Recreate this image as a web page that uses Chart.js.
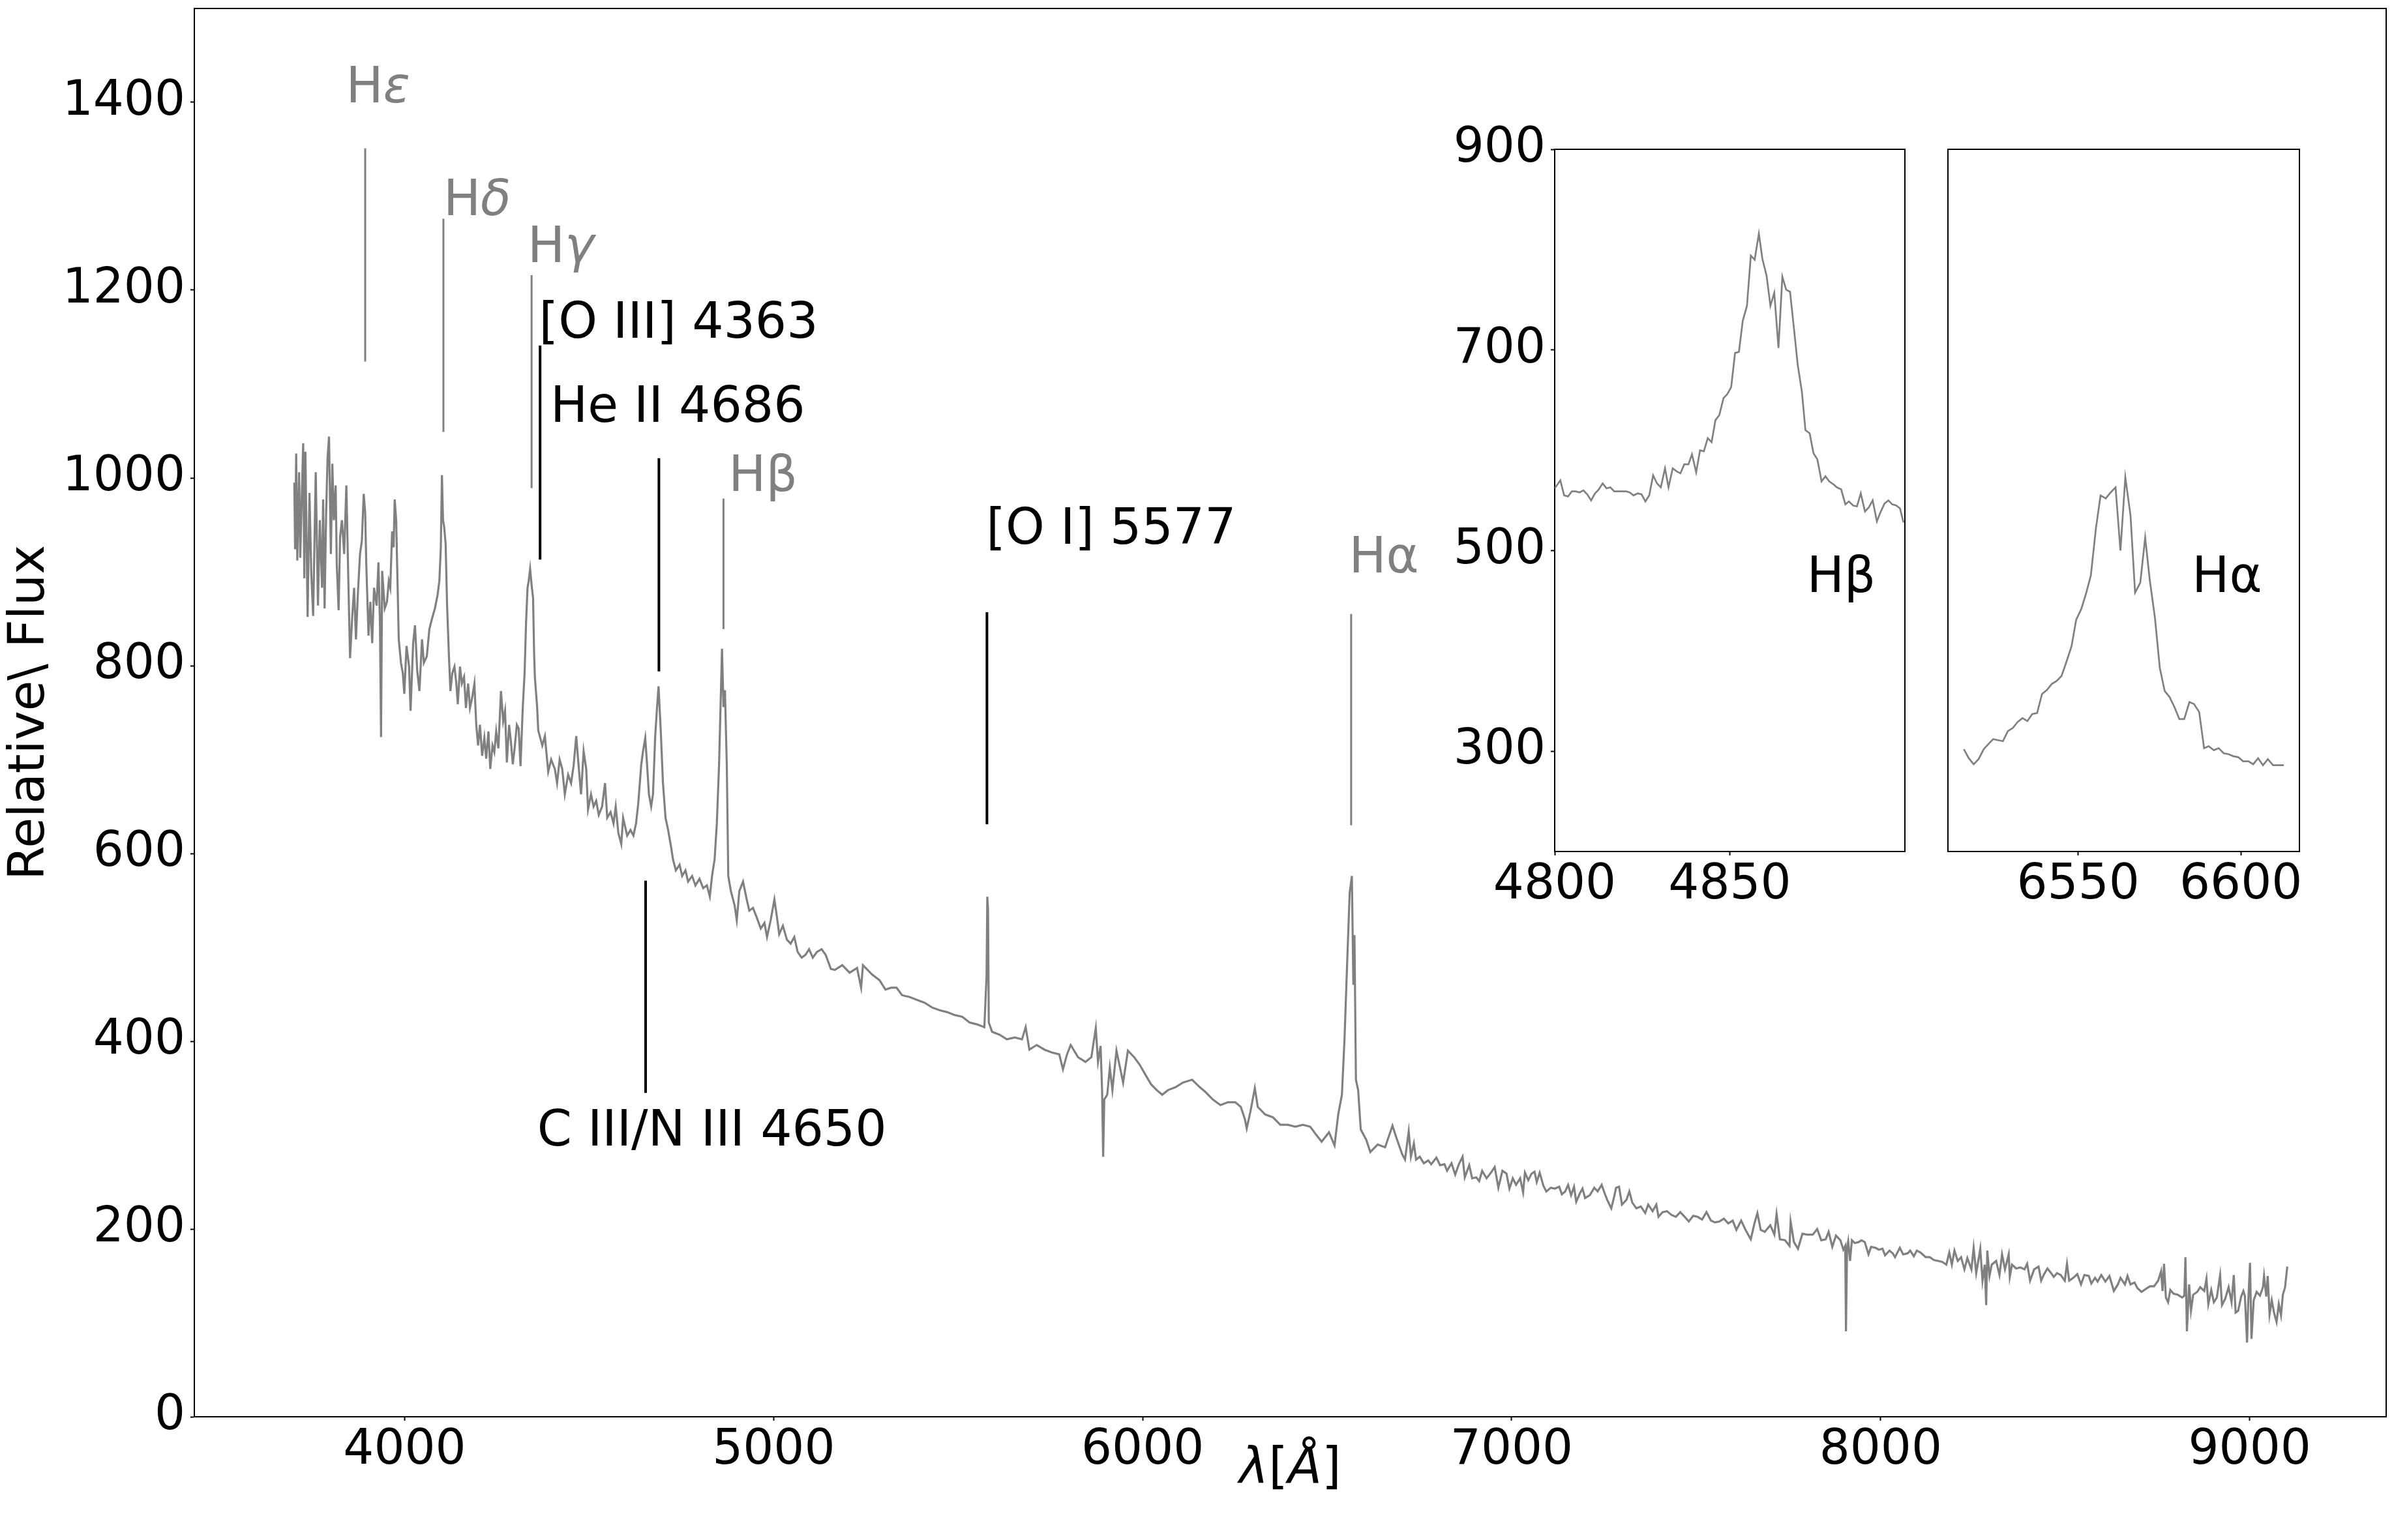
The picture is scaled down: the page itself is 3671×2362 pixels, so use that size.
<!DOCTYPE html>
<html>
<head>
<meta charset="utf-8">
<script src="https://cdn.jsdelivr.net/npm/chart.js@4/dist/chart.umd.min.js"></script>
<style>
  html, body { margin: 0; padding: 0; background: #fff; }
  #wrap { position: relative; width: 3671px; height: 2362px; background: #fff; }
  canvas { position: absolute; }
</style>
</head>
<body>
<div id="wrap">
  <canvas id="main" width="3671" height="2362" style="left:0;top:0;width:3671px;height:2362px"></canvas>
  <canvas id="hbeta" width="740" height="1280" style="left:2200px;top:150px;width:740px;height:1280px"></canvas>
  <canvas id="halpha" width="700" height="1280" style="left:2940px;top:150px;width:700px;height:1280px"></canvas>
</div>
<script>
// spectrum (wavelength in Å, relative flux)
const wavelength = [
  3701,3703,3706,3709,3714,3717,3721,3725,3728,3731,
  3737,3742,3747,3752,3756,3759,3765,3770,3776,3779,
  3783,3787,3791,3795,3800,3804,3808,3813,3816,3821,
  3825,3830,3836,3842,3847,3852,3858,3863,3868,3873,
  3879,3884,3889,3893,3896,3902,3907,3912,3917,3924,
  3929,3933,3936,3939,3946,3952,3957,3961,3966,3970,
  3973,3977,3981,3984,3990,3995,3999,4005,4012,4016,
  4023,4028,4034,4040,4047,4052,4060,4067,4074,4082,
  4089,4094,4098,4101,4104,4107,4111,4115,4120,4124,
  4129,4135,4140,4144,4150,4155,4161,4166,4172,4177,
  4183,4189,4194,4199,4204,4210,4216,4221,4227,4232,
  4238,4243,4248,4254,4261,4267,4272,4277,4283,4288,
  4293,4298,4304,4309,4314,4320,4325,4329,4333,4336,
  4340,4344,4348,
  4351,4353,4359,4362,4373,4380,4389,4397,4407,4413,
  4420,4427,4434,4443,4451,4458,4465,4470,4478,4485,
  4492,4497,4505,4512,4519,4526,4535,4543,4549,4558,
  4566,4572,4579,4587,4592,4603,4612,4620,4627,4633,
  4641,4646,4652,4657,4662,4668,4673,4679,4684,4688,
  4694,4700,4707,4714,4722,4727,4735,4745,4752,4761,
  4768,4779,4788,4799,4809,4819,4827,4833,4840,4846,
  4852,4857,4860,4864,4868,4873,4877,4884,4894,4900,
  4907,4917,4927,4934,4944,4954,4965,4975,4982,4992,
  5002,5009,5015,5025,5036,5046,5056,5065,5076,5086,
  5096,5106,5117,5130,5141,5155,
  5166,5186,5206,5226,5237,5242,5267,5287,5303,5318,
  5333,5348,5369,5389,5409,5429,5450,5470,5490,5511,
  5531,5551,5571,5577,5579,5581,5583,5592,5612,5632,
  5653,5673,5683,5693,5713,5734,5754,5774,5784,5795,
  5805,5825,5845,5861,5866,5873,5879,5886,5890,5893,
  5896,5904,5911,5918,5929,5937,5947,5960,5977,5992,
  6008,6023,6038,6053,6069,6089,6109,6134,6155,6170,
  6190,6211,6231,6251,6266,6277,6282,6292,6304,6312,
  6332,6353,6373,6393,6414,6434,6454,6469,6485,6505,
  6520,6530,6540,6547,6554,6561,6567,6571,6574,6578,
  6584,6591,6606,6617,6637,6657,6677,6687,
  6703,6711,6721,6727,6735,6741,6751,6762,6774,6782,
  6796,6806,6818,6825,6837,6847,6857,6867,6873,6885,
  6893,6904,6912,6920,6932,6944,6954,6964,6975,6986,
  6994,7003,7012,7023,7031,7036,7045,7054,7062,7068,
  7076,7086,7094,7106,7117,7129,7136,7145,7153,7161,
  7169,7175,7185,7192,7199,7212,7224,7233,7244,7252,
  7259,7270,7277,7283,7291,7299,7311,7319,7327,7338,
  7350,7362,7370,7382,7392,7398,7409,7421,7433,7445,
  7457,7469,7480,7492,7504,7516,7528,7540,7551,7563,
  7575,7587,7599,7609,7622,7634,7648,7658,7666,7675,
  7686,7701,7712,7718,7727,7741,7753,7756,7765,7776,
  7788,7800,7816,7828,7839,7851,7859,7869,7879,7891,
  7899,7904,7906,7909,7912,7917,7922,7930,7940,7948,
  7957,7967,7974,7986,7995,8005,8012,8024,8033,8039,
  8052,8061,8073,8080,8090,8098,8108,8122,8133,8144,
  8156,8167,8178,8186,8193,8200,8209,8218,8227,8235,
  8246,8252,8259,8265,8270,8276,8282,8286,8289,8295,
  8301,8313,8322,8329,8337,8347,8350,8356,8367,8379,
  8390,8397,8405,8416,8428,8435,8443,8452,8462,8469,
  8478,8488,8499,8505,8511,8522,8533,8543,8552,8564,
  8571,8581,8588,8598,8609,8620,8632,8643,8650,8662,
  8669,8677,8688,8696,8707,8718,8730,8741,8752,8760,
  8764,8768,8773,8779,8785,8794,8805,8817,8823,8826,
  8830,8836,8841,8847,8858,8866,8877,8883,8888,8896,
  8903,8911,8920,8925,8934,8943,8951,8957,8962,8969,
  8977,8983,8987,8993,8996,9001,9005,9011,9019,9028,
  9036,9039,9045,9049,9054,9060,9066,9073,9079,9085,
  9090,9096,9102
];
const flux = [
  995,924,1026,912,1006,915,977,1037,893,1028,
  852,984,897,853,941,1006,864,955,883,977,
  861,959,1021,1044,919,1015,955,992,908,859,
  937,955,919,992,897,808,853,883,828,875,
  919,933,983,963,908,832,868,824,883,864,
  910,846,724,901,861,868,890,883,943,926,
  977,955,883,828,803,792,770,821,799,752,
  824,843,795,773,828,803,810,839,850,861,
  875,890,926,1003,955,948,930,864,810,773,
  792,799,781,759,799,781,788,755,781,755,
  766,781,737,715,737,704,723,701,730,690,
  715,708,730,712,773,741,752,697,737,719,
  695,712,737,733,693,755,792,846,883,890,
  903,886,872,
  810,787,756,731,715,725,687,700,690,675,
  700,690,663,684,675,694,725,700,663,709,
  690,647,663,650,656,641,650,675,638,644,
  632,650,622,610,638,619,625,619,632,653,
  694,709,723,694,663,650,663,725,756,778,
  731,675,638,625,607,594,582,588,576,582,
  570,576,566,573,563,566,554,576,594,632,
  694,771,818,756,774,694,576,560,545,529,
  560,570,551,539,542,532,520,526,511,529,
  551,532,514,523,508,504,511,495,489,492,
  498,489,495,498,492,477,
  476,481,473,478,457,481,471,465,455,457,
  457,449,447,444,441,436,433,431,428,426,
  420,418,415,470,554,540,420,410,407,402,
  404,402,415,391,396,391,388,386,370,386,
  396,383,378,383,396,414,378,395,348,277,
  338,343,372,348,390,375,356,390,383,375,
  364,354,348,343,348,351,356,359,351,346,
  338,332,335,335,330,317,307,325,350,330,
  322,319,311,311,309,311,309,301,293,303,
  289,322,343,402,481,558,576,460,513,359,
  348,306,295,282,290,287,310,298,
  280,274,304,277,291,274,277,270,273,269,
  276,268,269,262,270,258,269,277,255,268,
  254,255,251,262,254,260,266,244,262,259,
  243,254,247,254,239,260,252,259,261,250,
  260,246,240,244,243,245,237,240,247,236,
  245,229,238,243,233,236,244,240,247,238,
  231,222,233,244,245,226,231,240,228,222,
  224,217,226,219,226,213,218,219,215,213,
  218,213,208,214,213,210,218,209,207,208,
  211,206,209,199,209,199,189,206,217,199,
  197,204,194,216,189,188,182,208,186,179,
  195,194,194,200,188,189,197,181,193,188,
  178,182,91,180,187,166,188,185,186,188,
  186,173,181,180,178,179,172,177,174,170,
  180,173,174,177,171,177,175,170,170,167,
  166,165,162,175,162,177,166,170,157,169,
  157,180,153,167,179,145,162,119,177,150,
  162,166,151,173,157,173,149,162,158,159,
  157,163,145,157,160,145,152,158,153,149,
  153,151,145,163,145,148,152,141,151,150,
  142,148,144,151,144,150,134,141,148,141,
  150,141,143,137,133,136,139,139,145,155,
  134,163,127,122,135,131,130,127,129,170,
  91,141,113,130,133,138,134,147,120,135,
  122,127,151,119,126,138,122,151,111,113,
  128,134,129,79,120,164,83,124,133,129,
  138,150,128,150,109,124,111,101,120,108,
  130,138,160
];

// Hβ close-up
const hbetaWave = [
  4800.0,4801.6,4802.7,4803.8,4804.9,4806.0,4807.1,4808.2,4809.3,4810.4,
  4811.5,4812.6,4813.7,4814.8,4815.9,4817.0,4818.1,4819.2,4820.4,4821.4,
  4822.5,4823.7,4824.8,4825.9,4827.0,4828.1,4829.2,4830.3,4831.5,4832.5,
  4833.7,4834.8,4835.9,4837.0,4838.2,4839.2,4840.4,4841.5,4842.6,4843.7,
  4844.8,4845.9,4847.0,4848.2,4849.3,4850.4,4851.5,4852.6,4853.7,4854.9,
  4856.0,4857.1,4858.3,4859.3,4860.5,4861.6,4862.7,4863.9,4865.0,4866.1,
  4867.2,4868.3,4869.4,4870.6,4871.6,4872.8,4873.9,4875.0,4876.2,4877.3,
  4878.4,4879.6,4880.6,4881.8,4883.0,4884.0,4885.2,4886.3,4887.4,4888.6,
  4889.7,4890.8,4892.0,4893.0,4894.2,4895.3,4896.4,4897.5,4898.6,4899.6
];
const hbetaFlux = [
  562,570,555,554,559,559,558,560,556,550,
  557,561,567,562,563,559,559,559,559,558,
  555,557,556,549,555,575,567,563,582,563,
  582,579,577,586,586,596,578,600,599,612,
  608,630,635,652,656,663,697,698,729,744,
  794,790,816,791,774,744,757,702,773,760,
  758,722,685,658,620,617,597,591,569,574,
  569,566,563,561,546,549,545,544,557,539,
  543,550,529,538,547,550,546,545,542,528
];

// Hα close-up
const halphaWave = [
  6514.9,6516.4,6517.9,6519.4,6521.0,6522.4,6523.9,6525.4,6526.9,6528.4,
  6529.9,6531.4,6532.9,6534.4,6535.9,6537.4,6538.9,6540.4,6541.9,6543.4,
  6544.9,6546.4,6548.0,6549.4,6551.0,6552.5,6553.9,6555.5,6556.9,6558.5,
  6560.0,6561.5,6563.0,6564.5,6566.1,6567.5,6569.1,6570.6,6572.0,6573.6,
  6575.1,6576.6,6578.1,6579.6,6581.1,6582.6,6584.2,6585.6,6587.2,6588.7,
  6590.1,6591.7,6593.2,6594.7,6596.2,6597.7,6599.2,6600.7,6602.3,6603.8,
  6605.3,6606.8,6608.3,6609.9,6611.3,6613.2
];
const halphaFlux = [
  302,293,287,292,302,307,312,311,310,320,
  323,329,333,330,337,338,357,361,367,370,
  375,389,405,431,442,458,475,523,555,552,
  558,563,500,573,535,458,468,513,471,433,
  383,360,354,344,332,332,349,347,339,303,
  305,301,303,298,297,295,294,290,290,287,
  293,286,292,286,286,286
];

const xTicks = [4000, 5000, 6000, 7000, 8000, 9000];
const yTicks = [0, 200, 400, 600, 800, 1000, 1200, 1400];
const hbetaXTicks = [4800, 4850];
const hbetaYTicks = [300, 500, 700, 900];
const halphaXTicks = [6550, 6600];

// line identifications: marker position and span (Å, flux)
const lineNames = ['Hε', 'Hδ', 'Hγ', '[O III] 4363', 'He II 4686', 'Hβ', '[O I] 5577', 'Hα', 'C III/N III 4650'];
const lineWave  = [3893, 4105, 4344, 4367, 4689, 4864, 5578, 6565, 4653];
const lineLow   = [1124, 1049,  989,  913,  794,  839,  631,  630,  345];
const lineHigh  = [1351, 1276, 1216, 1141, 1021,  978,  857,  855,  571];
const labelWave = [3841, 4105, 4333, 4364, 4395, 4878, 5576, 6559, 4359];
const labelFlux = [1400, 1280, 1230, 1149, 1060,  986,  930,  899,  289];

const GREY = '#808080';
const FONT = 'DejaVu Sans';
const isBalmer = name => /^H[αβγδε]$/.test(name);

function fixTicks(values) {
  return scale => { scale.ticks = values.map(v => ({ value: v })); };
}

// fixed box size, no extra room for overhanging tick labels
function fixBox(prop, size) {
  return scale => {
    scale[prop] = size;
    scale.paddingTop = scale.paddingBottom = scale.paddingLeft = scale.paddingRight = 0;
  };
}

function toPoints(xs, ys) {
  return xs.map((x, i) => ({ x: x, y: ys[i] }));
}

// draw text made of plain and italic runs
function drawRuns(ctx, runs, x, y, size, color, align) {
  ctx.save();
  ctx.fillStyle = color;
  ctx.textBaseline = 'alphabetic';
  ctx.textAlign = 'left';
  const fontOf = it => (it ? 'italic ' : '') + size + 'px "' + FONT + '"';
  let total = 0;
  runs.forEach(r => { ctx.font = fontOf(r[1]); total += ctx.measureText(r[0]).width; });
  let cx = align === 'center' ? x - total / 2 : x;
  runs.forEach(r => {
    ctx.font = fontOf(r[1]);
    ctx.fillText(r[0], cx, y);
    cx += ctx.measureText(r[0]).width;
  });
  ctx.restore();
}

function splitRuns(text) {
  if (/^H[εδγ]$/.test(text)) return [['H', false], [text[1], true]];
  return [[text, false]];
}

const framePlugin = {
  id: 'frame',
  afterDraw(chart) {
    const { ctx, chartArea: a } = chart;
    ctx.save();
    ctx.strokeStyle = '#000';
    ctx.lineWidth = 2;
    ctx.beginPath();
    ctx.moveTo(a.left, a.top);
    ctx.lineTo(a.right, a.top);
    ctx.lineTo(a.right, a.bottom);
    ctx.stroke();
    ctx.restore();
  }
};

const mainLabels = {
  id: 'mainLabels',
  afterDraw(chart) {
    const { ctx, scales: { x, y }, chartArea: a } = chart;
    lineNames.forEach((name, i) => {
      drawRuns(ctx, splitRuns(name), x.getPixelForValue(labelWave[i]), y.getPixelForValue(labelFlux[i]),
        76, isBalmer(name) ? GREY : '#000', 'left');
    });
    drawRuns(ctx, [['λ', true], ['[', false], ['Å', true], [']', false]],
      (a.left + a.right) / 2, 2274, 76, '#000', 'center');
  }
};

function axisOpts(min, max, ticks, extra) {
  return Object.assign({
    type: 'linear', min: min, max: max,
    afterBuildTicks: fixTicks(ticks),
    grid: { drawOnChartArea: false, drawTicks: true, tickLength: 6, tickWidth: 2, tickColor: '#000' },
    border: { display: true, color: '#000', width: 2 },
    ticks: { color: '#000', font: { family: FONT, size: 74 }, autoSkip: false, maxRotation: 0,
             callback: v => String(v) }
  }, extra);
}

const markerSets = lineNames.map((name, i) => ({
  data: [{ x: lineWave[i], y: lineLow[i] }, { x: lineWave[i], y: lineHigh[i] }],
  borderColor: isBalmer(name) ? GREY : '#000',
  borderWidth: isBalmer(name) ? 3 : 4,
  pointRadius: 0
}));

const mainX = axisOpts(3430, 9370, xTicks, { afterFit: fixBox('height', 189) });
mainX.ticks.padding = 2;
const mainY = axisOpts(0, 1500, yTicks, {
  afterFit: fixBox('width', 298),
  title: { display: true, text: 'Relative\\ Flux', color: '#000', font: { family: FONT, size: 76 },
           padding: { top: 2, bottom: 0 } }
});
mainY.ticks.padding = 8;

new Chart(document.getElementById('main'), {
  type: 'line',
  data: {
    datasets: [{ data: toPoints(wavelength, flux), borderColor: GREY, borderWidth: 3.2,
                 pointRadius: 0, tension: 0 }].concat(markerSets)
  },
  options: {
    responsive: false, animation: false, devicePixelRatio: 1,
    layout: { padding: { top: 13, right: 12, left: 0, bottom: 0 } },
    plugins: { legend: { display: false }, tooltip: { enabled: false } },
    scales: { x: mainX, y: mainY }
  },
  plugins: [framePlugin, mainLabels]
});

function makeInset(id, xs, ys, xmin, xmax, xt, yt, yWidth, padRight, name, nameWave) {
  const ix = axisOpts(xmin, xmax, xt, { afterFit: fixBox('height', 124) });
  ix.ticks.padding = 2;
  const iy = axisOpts(200, 900, yt, { afterFit: fixBox('width', yWidth) });
  iy.ticks.padding = 8;
  const label = {
    id: 'insetLabel',
    afterDraw(chart) {
      const { ctx, scales: { x, y } } = chart;
      drawRuns(ctx, [[name, false]], x.getPixelForValue(nameWave), y.getPixelForValue(459), 76, '#000', 'left');
    }
  };
  new Chart(document.getElementById(id), {
    type: 'line',
    data: { datasets: [{ data: toPoints(xs, ys), borderColor: GREY, borderWidth: 2.7, pointRadius: 0, tension: 0 }] },
    options: {
      responsive: false, animation: false, devicePixelRatio: 1,
      layout: { padding: { top: 79, right: padRight, left: 0, bottom: 0 } },
      plugins: { legend: { display: false }, tooltip: { enabled: false } },
      scales: { x: ix, y: iy }
    },
    plugins: [framePlugin, label]
  });
}

makeInset('hbeta', hbetaWave, hbetaFlux, 4800, 4900, hbetaXTicks, hbetaYTicks, 184, 19, 'Hβ', 4872);
makeInset('halpha', halphaWave, halphaFlux, 6510, 6618, halphaXTicks, [], 47, 114, 'Hα', 6585);
</script>
</body>
</html>
